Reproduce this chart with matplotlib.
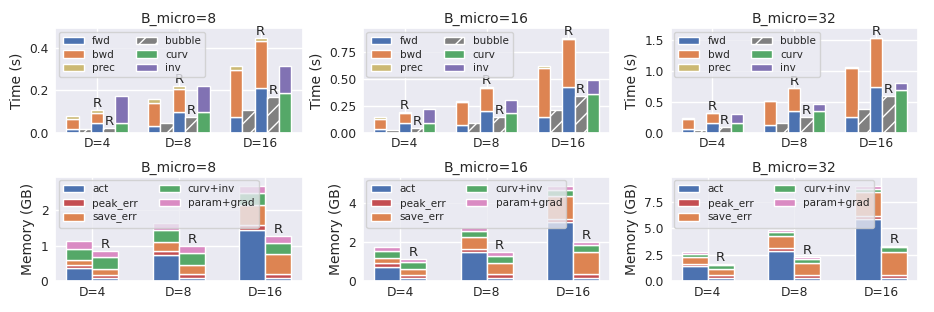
import matplotlib
matplotlib.use("Agg")
import matplotlib.pyplot as plt
import seaborn as sns
import numpy as np

groups = ["D=4", "D=8", "D=16"]
b_micro = [8, 16, 32]

# time (s), one row per B_micro, one value per D
fwd = [[0.017, 0.033, 0.072], [0.034, 0.071, 0.146], [0.060, 0.125, 0.262]]
bwd = [[0.046, 0.108, 0.226], [0.093, 0.209, 0.454], [0.169, 0.382, 0.796]]
prec = [[0.015, 0.017, 0.017], [0.013, 0.015, 0.012], [0.006, 0.006, 0.006]]
bubble = [[0.016, 0.044, 0.107], [0.028, 0.087, 0.208], [0.050, 0.158, 0.376]]
fwd_r = [[0.044, 0.099, 0.209], [0.090, 0.202, 0.422], [0.158, 0.350, 0.742]]
bwd_r = [[0.047, 0.105, 0.224], [0.090, 0.208, 0.441], [0.158, 0.370, 0.791]]
prec_r = [[0.014, 0.016, 0.016], [0.013, 0.012, 0.016], [0.006, 0.011, 0.011]]
bubble_r = [[0.024, 0.072, 0.169], [0.047, 0.140, 0.335], [0.087, 0.256, 0.589]]
curv = [[0.047, 0.096, 0.188], [0.090, 0.177, 0.360], [0.164, 0.344, 0.687]]
inv = [[0.126, 0.124, 0.127], [0.127, 0.127, 0.128], [0.131, 0.120, 0.120]]

# memory (GB)
act = [[0.36, 0.73, 1.46], [0.70, 1.48, 3.00], [1.39, 2.88, 5.89]]
peak_err = [[0.11, 0.12, 0.12], [0.21, 0.18, 0.17], [0.22, 0.28, 0.25]]
save_err = [[0.14, 0.26, 0.56], [0.26, 0.57, 1.17], [0.64, 1.14, 2.28]]
curv_inv = [[0.31, 0.35, 0.34], [0.36, 0.34, 0.31], [0.28, 0.35, 0.31]]
param_grad = [[0.21, 0.19, 0.21], [0.19, 0.17, 0.20], [0.22, 0.19, 0.26]]
act_r = [[0.075, 0.075, 0.075], [0.14, 0.14, 0.14], [0.32, 0.32, 0.32]]
peak_err_r = [[0.095, 0.115, 0.125], [0.17, 0.22, 0.22], [0.22, 0.25, 0.25]]
save_err_r = [[0.16, 0.28, 0.56], [0.29, 0.55, 1.13], [0.57, 1.11, 2.21]]
curv_inv_r = [[0.34, 0.33, 0.33], [0.36, 0.38, 0.36], [0.38, 0.41, 0.42]]
param_grad_r = [[0.19, 0.19, 0.19], [0.19, 0.17, 0.17], [0.16, 0.16, 0.15]]

sns.set_theme(style="darkgrid")
plt.rcParams.update({
    "xtick.labelsize": 8.8, "ytick.labelsize": 8.8,
    "axes.labelsize": 10, "axes.titlesize": 10,
    "xtick.major.size": 0, "ytick.major.size": 0,
    "xtick.major.pad": 3.5, "ytick.major.pad": 4.8,
    "axes.titlepad": 3.5,
})
pal = sns.color_palette("deep")
C = {"blue": pal[0], "orange": pal[1], "green": pal[2], "red": pal[3],
     "purple": pal[4], "pink": pal[6], "olive": pal[8]}


def stack(ax, x, w, parts, colors, labels):
    bottom = np.zeros(len(x))
    for vals, col, lab in zip(parts, colors, labels):
        vals = np.array(vals)
        ax.bar(x, vals, w, bottom=bottom, color=col, edgecolor="white", label=lab)
        bottom = bottom + vals
    return bottom


def draw_time(ax, i):
    x = np.arange(len(groups))
    w = 0.15
    tops = []
    tops.append(stack(ax, x - 2 * w, w, [fwd[i], bwd[i], prec[i]],
                      [C["blue"], C["orange"], C["olive"]], ["fwd", "bwd", "prec"]))
    ax.bar(x - w, bubble[i], w, color="gray", edgecolor="white", hatch="//", label="bubble")
    top_r = stack(ax, x, w, [fwd_r[i], bwd_r[i], prec_r[i]],
                  [C["blue"], C["orange"], C["olive"]], [None] * 3)
    ax.bar(x + w, bubble_r[i], w, color="gray", edgecolor="white", hatch="//")
    tops.append(top_r)
    tops.append(stack(ax, x + 2 * w, w, [curv[i], inv[i]],
                      [C["green"], C["purple"]], ["curv", "inv"]))
    for xi, t in zip(x, top_r):
        ax.text(xi, t, "R", ha="center", va="bottom", fontsize=9.5)
    for xi, t in zip(x + w, bubble_r[i]):
        ax.text(xi, t, "R", ha="center", va="bottom", fontsize=9.5)
    ymax = max(np.max(t) for t in tops)
    ax.set_ylim(0, ymax * 1.1)
    ax.set_xticks(x)
    ax.set_xticklabels(groups)
    ax.set_ylabel("Time (s)")
    ax.set_title(f"B_micro={b_micro[i]}")
    h, l = ax.get_legend_handles_labels()
    order = ["fwd", "bwd", "prec", "bubble", "curv", "inv"]
    hd = dict(zip(l, h))
    ax.legend([hd[k] for k in order], order, ncol=2, loc="upper left",
              fontsize=7.5, labelspacing=0.35, borderaxespad=0.35)


def draw_mem(ax, i):
    x = np.arange(len(groups))
    w = 0.3
    cols = [C["blue"], C["red"], C["orange"], C["green"], C["pink"]]
    labs = ["act", "peak_err", "save_err", "curv+inv", "param+grad"]
    t1 = stack(ax, x - w / 2, w, [act[i], peak_err[i], save_err[i], curv_inv[i], param_grad[i]],
               cols, labs)
    t2 = stack(ax, x + w / 2, w, [act_r[i], peak_err_r[i], save_err_r[i], curv_inv_r[i],
                                  param_grad_r[i]], cols, [None] * 5)
    for xi, t in zip(x + w / 2, t2):
        ax.text(xi, t, "R", ha="center", va="bottom", fontsize=9.5)
    ax.set_ylim(0, max(np.max(t1), np.max(t2)) * 1.1)
    ax.set_xticks(x)
    ax.set_xticklabels(groups)
    ax.set_ylabel("Memory (GB)")
    ax.set_title(f"B_micro={b_micro[i]}")
    ax.legend(ncol=2, loc="upper left", fontsize=7.5, labelspacing=0.35, borderaxespad=0.35)


fig, axes = plt.subplots(2, 3, figsize=(9.34, 3.12), dpi=100)
fig.subplots_adjust(left=0.059, right=0.983, bottom=0.099, top=0.91, wspace=0.243, hspace=0.42)
for i in range(3):
    draw_time(axes[0, i], i)
    draw_mem(axes[1, i], i)

fig.savefig("out.png", dpi=100)
